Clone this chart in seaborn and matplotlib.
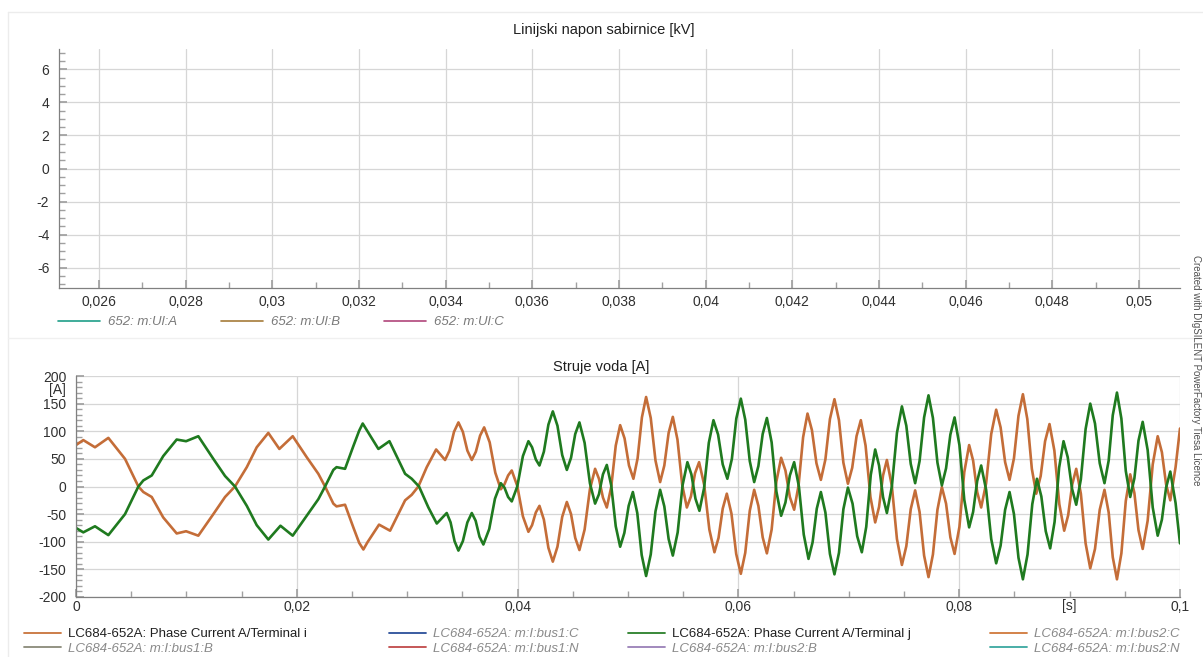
import pandas as pd
import seaborn as sns
import matplotlib.pyplot as plt
from matplotlib.lines import Line2D
from matplotlib.ticker import MultipleLocator, FuncFormatter
import matplotlib.transforms as mtransforms

# ---- data ----
# Phase current A, terminal i (orange)
t_i = [0.0, 0.00066, 0.00172, 0.00293, 0.00444, 0.00565, 0.0061, 0.00686, 0.0079, 0.00912,
       0.00997, 0.01108, 0.01244, 0.0135, 0.0144, 0.01547, 0.01637, 0.01742, 0.01842, 0.01963,
       0.0209, 0.02195, 0.02256, 0.02331, 0.0236, 0.02437, 0.02512, 0.02565, 0.02603, 0.0264,
       0.02745, 0.02845, 0.02981, 0.03041, 0.03101, 0.03177, 0.03262, 0.03343, 0.03383, 0.03424,
       0.03464, 0.03504, 0.03545, 0.03585, 0.03622, 0.0366, 0.03697, 0.03747, 0.03798,
       0.03848, 0.03881, 0.03914, 0.03947, 0.03997, 0.04048, 0.04098, 0.04131, 0.04165,
       0.04198, 0.04238, 0.04279, 0.04319, 0.04361, 0.04404, 0.04446, 0.04484, 0.04522,
       0.0456, 0.04607, 0.04655, 0.04702, 0.04737, 0.04773, 0.04808, 0.04848, 0.04889,
       0.04929, 0.04969, 0.05009, 0.05049, 0.05087, 0.05126, 0.05164, 0.05206, 0.05249,
       0.05291, 0.05329, 0.05368, 0.05406, 0.05448, 0.05491, 0.05533, 0.0557, 0.05607,
       0.05644, 0.0569, 0.05737, 0.05783, 0.0582, 0.05858, 0.05895, 0.05937, 0.0598,
       0.06022, 0.06062, 0.06103, 0.06143, 0.06181, 0.0622, 0.06258, 0.06301, 0.06344,
       0.06387, 0.06426, 0.06466, 0.06505, 0.06545, 0.06586, 0.06626, 0.06666, 0.06707,
       0.06747, 0.06788, 0.06829, 0.0687, 0.06911, 0.06951, 0.06992, 0.07031, 0.0707,
       0.07109, 0.07152, 0.07196, 0.07239, 0.07274, 0.0731, 0.07345, 0.0739, 0.07436,
       0.07481, 0.07521, 0.07561, 0.07601, 0.07641, 0.07682, 0.07722, 0.07762, 0.07803,
       0.07843, 0.07881, 0.0792, 0.07958, 0.08002, 0.08046, 0.0809, 0.08126, 0.08163,
       0.08199, 0.08244, 0.0829, 0.08335, 0.08375, 0.08416, 0.08456, 0.08496, 0.08537,
       0.08577, 0.08617, 0.08658, 0.08698, 0.08738, 0.08778, 0.08818, 0.08862, 0.08907,
       0.08951, 0.08987, 0.09024, 0.0906, 0.09102, 0.09145, 0.09187, 0.0923, 0.09273,
       0.09316, 0.09354, 0.09391, 0.09429, 0.09469, 0.09509, 0.09549, 0.09587, 0.09624,
       0.09662, 0.09707, 0.09753, 0.09798, 0.09836, 0.09874, 0.09912, 0.0996, 0.1]
current_i = [75, 84, 71, 88, 50, 0, -10, -19, -56, -85,
             -81, -89, -50, -19, 0, 35, 71, 97, 68, 91,
             53, 23, 0, -31, -36, -33, -74, -102, -114, -101,
             -69, -80, -25, -15, 0, 35, 67, 48, 65, 99,
             116, 99, 65, 48, 63, 92, 107, 80, 25,
             -5, 4, 20, 29, 1, -54, -82, -70, -47,
             -35, -60, -111, -136, -109, -55, -28, -50, -93,
             -115, -78, -5, 32, 14, -20, -38, -1, 74,
             111, 87, 38, 14, 51, 125, 162, 124, 47,
             8, 38, 97, 126, 85, 3, -38, -18, 24,
             44, 3, -78, -119, -93, -40, -13, -49, -122,
             -158, -120, -44, -6, -35, -92, -121, -78, 9,
             52, 29, -19, -42, 2, 89, 132, 102, 42,
             12, 49, 122, 158, 120, 43, 5, 34, 91,
             120, 74, -19, -65, -37, 20, 48, 1, -95,
             -142, -108, -41, -7, -46, -125, -164, -123, -42,
             -1, -31, -92, -122, -73, 26, 75, 47, -10,
             -38, 6, 95, 139, 107, 44, 12, 51, 128,
             167, 122, 32, -13, 19, 82, 113, 65, -32,
             -80, -52, 4, 32, -13, -103, -148, -113, -42,
             -6, -47, -128, -168, -121, -26, 22, -12, -79,
             -113, -62, 40, 91, 62, 4, -25, 35, 105]

# Phase current A, terminal j (green)
t_j = [0.0, 0.00066, 0.00172, 0.00293, 0.00444, 0.00565, 0.0061, 0.00686, 0.0079, 0.00912,
       0.00997, 0.01108, 0.01244, 0.0135, 0.0144, 0.01547, 0.01637, 0.01742, 0.01852, 0.01963,
       0.0209, 0.02195, 0.02256, 0.02331, 0.0236, 0.02437, 0.02512, 0.02565, 0.02597, 0.0264,
       0.02739, 0.02839, 0.02981, 0.03041, 0.03107, 0.03192, 0.03268, 0.03358, 0.03393, 0.03429,
       0.03464, 0.03504, 0.03545, 0.03585, 0.0362, 0.03655, 0.0369, 0.03743, 0.03795,
       0.03848, 0.03881, 0.03914, 0.03947, 0.03997, 0.04048, 0.04098, 0.04131, 0.04165,
       0.04198, 0.04238, 0.04279, 0.04319, 0.04361, 0.04404, 0.04446, 0.04484, 0.04522,
       0.0456, 0.04607, 0.04655, 0.04702, 0.04737, 0.04773, 0.04808, 0.04848, 0.04889,
       0.04929, 0.04967, 0.05006, 0.05044, 0.05084, 0.05124, 0.05164, 0.05206, 0.05249,
       0.05291, 0.05329, 0.05368, 0.05406, 0.0545, 0.05494, 0.05538, 0.05574, 0.05611,
       0.05647, 0.05689, 0.05732, 0.05774, 0.05816, 0.05858, 0.059, 0.05941, 0.05981,
       0.06022, 0.06062, 0.06103, 0.06143, 0.06181, 0.0622, 0.06258, 0.06301, 0.06344,
       0.06387, 0.06426, 0.06466, 0.06505, 0.06548, 0.06592, 0.06635, 0.06672, 0.0671,
       0.06747, 0.06788, 0.06829, 0.0687, 0.06911, 0.06951, 0.06992, 0.07034, 0.07076,
       0.07118, 0.07158, 0.07199, 0.07239, 0.07274, 0.0731, 0.07345, 0.0739, 0.07436,
       0.07481, 0.07521, 0.07561, 0.07601, 0.07641, 0.07682, 0.07722, 0.07762, 0.07803,
       0.07843, 0.07881, 0.0792, 0.07958, 0.08002, 0.08046, 0.0809, 0.08126, 0.08163,
       0.08199, 0.08244, 0.0829, 0.08335, 0.08375, 0.08416, 0.08456, 0.08496, 0.08537,
       0.08577, 0.08619, 0.08662, 0.08704, 0.08744, 0.08784, 0.08824, 0.08864, 0.08905,
       0.08945, 0.08983, 0.09022, 0.0906, 0.09102, 0.09145, 0.09187, 0.0923, 0.09273,
       0.09316, 0.09354, 0.09391, 0.09429, 0.09469, 0.09509, 0.09549, 0.09587, 0.09624,
       0.09662, 0.09707, 0.09753, 0.09798, 0.09836, 0.09874, 0.09912, 0.0996, 0.1]
current_j = [-75, -83, -72, -88, -50, 0, 11, 20, 55, 85,
             82, 91, 50, 19, 0, -35, -70, -96, -71, -89,
             -53, -23, 0, 30, 35, 32, 73, 101, 114, 100,
             68, 82, 23, 14, 0, -38, -67, -48, -65, -99,
             -116, -99, -65, -48, -62, -91, -105, -77, -22,
             6, -2, -19, -27, 0, 55, 82, 71, 49,
             38, 63, 112, 136, 110, 57, 30, 52, 95,
             116, 79, 6, -31, -14, 22, 39, 2, -72,
             -109, -84, -35, -10, -48, -124, -162, -123, -45,
             -6, -36, -95, -125, -83, 2, 44, 22, -22,
             -44, -3, 79, 120, 94, 40, 14, 50, 123,
             159, 121, 46, 8, 37, 95, 124, 80, -9,
             -53, -29, 20, 44, 0, -87, -131, -101, -40,
             -10, -47, -122, -159, -120, -41, -2, -31, -90,
             -119, -73, 21, 67, 38, -19, -48, 0, 97,
             145, 110, 41, 6, 46, 125, 165, 124, 43,
             2, 33, 94, 125, 75, -24, -74, -46, 10,
             38, -6, -95, -139, -107, -42, -10, -50, -129,
             -168, -123, -32, 14, -18, -81, -112, -64, 34,
             82, 53, -4, -33, 13, 104, 150, 114, 42,
             6, 47, 129, 170, 123, 28, -19, 15, 83,
             117, 66, -38, -89, -60, -2, 27, -30, -103]

voltage_labels = ["652: m:Ul:A", "652: m:Ul:B", "652: m:Ul:C"]
voltage_colors = ["#1f9e89", "#a67c3a", "#b0457a"]

legend_cols = [
    [("LC684-652A: Phase Current A/Terminal i", "#c8733a", False),
     ("LC684-652A: m:I:bus1:B", "#8a8a7a", True)],
    [("LC684-652A: m:I:bus1:C", "#2b4f9a", True),
     ("LC684-652A: m:I:bus1:N", "#c04a4a", True)],
    [("LC684-652A: Phase Current A/Terminal j", "#2a7f2a", False),
     ("LC684-652A: m:I:bus2:B", "#9a80b8", True)],
    [("LC684-652A: m:I:bus2:C", "#d0783a", True),
     ("LC684-652A: m:I:bus2:N", "#3aa8a0", True)],
]

ORANGE = "#c46d38"
GREEN = "#1f7a1f"

sns.set_theme(style="white")
plt.rcParams['font.family'] = ['Liberation Sans', 'DejaVu Sans']
plt.rcParams['axes.unicode_minus'] = False

W, H = 1203, 657
fig = plt.figure(figsize=(W / 100, H / 100), dpi=100)


def fx(px):
    return px / W


def fy(py):
    return 1 - py / H


def comma(x, pos):
    s = f"{x:.3f}".rstrip('0').rstrip('.')
    return s.replace('.', ',')


def style_axes(ax, xpad):
    for side in ["top", "right"]:
        ax.spines[side].set_visible(False)
    for side in ["left", "bottom"]:
        ax.spines[side].set_color("#808080")
        ax.spines[side].set_linewidth(0.9)
    ax.tick_params(which="both", direction="in", colors="#a0a0a0", labelcolor="#303030",
                   labelsize=10, left=True, bottom=True)
    ax.tick_params(which="major", length=6)
    ax.tick_params(which="minor", length=4)
    ax.tick_params(axis="y", pad=7)
    ax.tick_params(axis="x", pad=xpad)
    ax.grid(True, which="major", color="#d6d6d6", linewidth=0.9)
    ax.set_axisbelow(True)


# ---- top panel: empty line-voltage chart ----
ax1 = fig.add_axes([fx(59), fy(288), fx(1180 - 59), fy(49) - fy(288)])
for lab, col in zip(voltage_labels, voltage_colors):
    ax1.plot([], [], color=col, label=lab)
ax1.set_xlim(0.02508, 0.05095)
ax1.set_ylim(-7.23, 7.23)
ax1.xaxis.set_major_locator(MultipleLocator(0.002))
ax1.xaxis.set_minor_locator(MultipleLocator(0.001))
ax1.yaxis.set_major_locator(MultipleLocator(2))
ax1.yaxis.set_minor_locator(MultipleLocator(0.5))
ax1.xaxis.set_major_formatter(FuncFormatter(comma))
style_axes(ax1, 5)
fig.text(fx(604), fy(30), "Linijski napon sabirnice [kV]", ha="center", va="center",
         fontsize=10.5, color="#202020")

for k, (lab, col) in enumerate(zip(voltage_labels, voltage_colors)):
    h = Line2D([], [], color=col, linewidth=1.2)
    leg = fig.legend([h], [lab], loc="center left",
                     bbox_to_anchor=(fx(58 + 163 * k), fy(322)), frameon=False,
                     fontsize=9.5, handlelength=3.2, handletextpad=0.6,
                     borderaxespad=0, borderpad=0)
    for txt in leg.get_texts():
        txt.set_style("italic")
        txt.set_color("#7a7a7a")

# ---- bottom panel: line currents ----
ax2 = fig.add_axes([fx(76), fy(597), fx(1180 - 76), fy(376) - fy(597)])
df_i = pd.DataFrame({"t": t_i, "I": current_i})
df_j = pd.DataFrame({"t": t_j, "I": current_j})
sns.lineplot(data=df_i, x="t", y="I", ax=ax2, color=ORANGE, linewidth=1.9,
             sort=False, estimator=None)
sns.lineplot(data=df_j, x="t", y="I", ax=ax2, color=GREEN, linewidth=1.9,
             sort=False, estimator=None)
for line in ax2.get_lines():
    line.set_solid_joinstyle("round")
ax2.set_xlim(0, 0.1)
ax2.set_ylim(-200, 200)
ax2.set_xlabel("")
ax2.set_ylabel("")
ax2.xaxis.set_major_locator(MultipleLocator(0.02))
ax2.xaxis.set_minor_locator(MultipleLocator(0.005))
ax2.yaxis.set_major_locator(MultipleLocator(50))
ax2.yaxis.set_minor_locator(MultipleLocator(10))
ax2.xaxis.set_major_formatter(FuncFormatter(comma))
style_axes(ax2, 2)
trans = mtransforms.blended_transform_factory(ax2.transAxes, ax2.transData)
ax2.text(-0.009, 175, "[A]", transform=trans, ha="right", va="center", fontsize=10,
         color="#303030")
ax2.text(0.09, -203, "[s]", transform=ax2.transData, ha="center", va="top",
         fontsize=10, color="#303030")
fig.text(fx(601), fy(367), "Struje voda [A]", ha="center", va="center",
         fontsize=10.5, color="#202020")

col_x = [24, 389, 628, 990]
for cx, entries in zip(col_x, legend_cols):
    handles = [Line2D([], [], color=c, linewidth=1.3) for _, c, _ in entries]
    labels = [lab for lab, _, _ in entries]
    leg = fig.legend(handles, labels, loc="upper left",
                     bbox_to_anchor=(fx(cx), fy(628)), frameon=False,
                     fontsize=9.5, handlelength=2.8, handletextpad=0.5,
                     labelspacing=0.2, borderaxespad=0, borderpad=0)
    for txt, (_, _, it) in zip(leg.get_texts(), entries):
        if it:
            txt.set_style("italic")
            txt.set_color("#8a8a8a")
        else:
            txt.set_color("#202020")

# side note and frame lines
fig.text(fx(1196), fy(370), "Created with DIgSILENT PowerFactory Tiesa Licence", rotation=270,
         ha="center", va="center", fontsize=7, color="#505050")
fig.add_artist(Line2D([fx(8), fx(1203)], [fy(12), fy(12)], color="#ececec", linewidth=1))
fig.add_artist(Line2D([fx(8), fx(8)], [fy(12), fy(657)], color="#ececec", linewidth=1))
fig.add_artist(Line2D([fx(8), fx(1203)], [fy(338), fy(338)], color="#f0f0f0", linewidth=1))

fig.savefig("out.png", dpi=100, facecolor="white")
